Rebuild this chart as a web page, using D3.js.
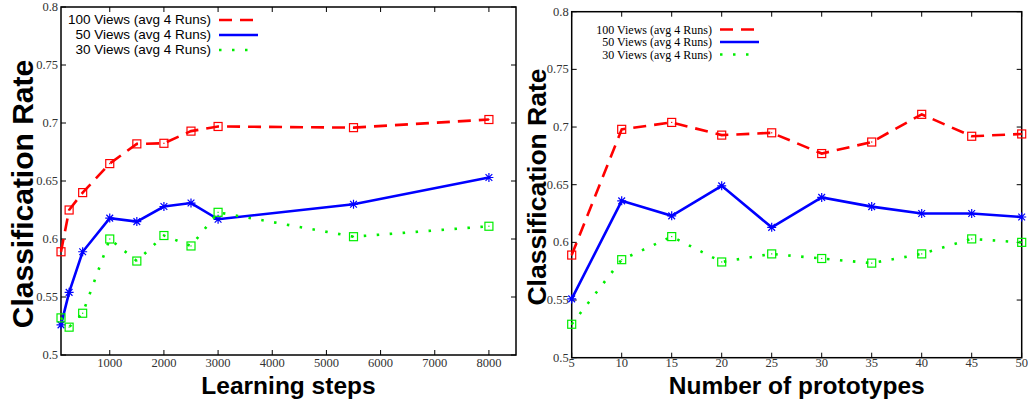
<!DOCTYPE html>
<html>
<head>
<meta charset="utf-8">
<script src="https://cdn.jsdelivr.net/npm/d3@7.9.0/dist/d3.min.js"></script>
<style>
  body { margin: 0; background: #fff; }
  svg { display: block; }
</style>
</head>
<body>
<svg width="1028" height="401"></svg>
<script>
// left panel: learning steps
const steps = [100, 250, 500, 1000, 1500, 2000, 2500, 3000, 5500, 8000];
const steps100 = [0.589, 0.625, 0.640, 0.665, 0.682, 0.6825, 0.693, 0.697, 0.696, 0.703];
const steps50 = [0.526, 0.554, 0.589, 0.618, 0.615, 0.628, 0.631, 0.617, 0.630, 0.653];
const steps30 = [0.532, 0.524, 0.536, 0.600, 0.581, 0.603, 0.594, 0.623, 0.602, 0.611];
const stepTicks = [1000, 2000, 3000, 4000, 5000, 6000, 7000, 8000];

// right panel: number of prototypes
const protos = [5, 10, 15, 20, 25, 30, 35, 40, 45, 50];
const protos100 = [0.589, 0.698, 0.704, 0.693, 0.695, 0.677, 0.687, 0.711, 0.692, 0.694];
const protos50 = [0.551, 0.636, 0.623, 0.649, 0.613, 0.639, 0.631, 0.625, 0.625, 0.622];
const protos30 = [0.529, 0.585, 0.605, 0.583, 0.590, 0.586, 0.582, 0.590, 0.603, 0.600];
const protoTicks = [5, 10, 15, 20, 25, 30, 35, 40, 45, 50];

const rateTicks = [0.5, 0.55, 0.6, 0.65, 0.7, 0.75, 0.8];
const seriesNames = ['100 Views (avg 4 Runs)', '50 Views (avg 4 Runs)', '30 Views (avg 4 Runs)'];

const svg = d3.select('svg');

const styles = [
  { color: '#ff0000', dash: '13,8', mark: 'square' },
  { color: '#0000ff', dash: null, mark: 'star' },
  { color: '#00ee00', dash: '2.5,10.5', mark: 'square' }
];

function drawPanel(p) {
  const x = d3.scaleLinear().domain(p.xDomain).range([p.left, p.right]);
  const y = d3.scaleLinear().domain([0.5, 0.8]).range([p.bottom, p.top]);
  const g = svg.append('g');

  // frame
  g.append('rect')
    .attr('x', p.left).attr('y', p.top)
    .attr('width', p.right - p.left).attr('height', p.bottom - p.top)
    .attr('fill', 'none').attr('stroke', '#000').attr('stroke-width', 1.5);

  // inward ticks on all sides
  p.xTicks.forEach((t) => {
    g.append('line').attr('x1', x(t)).attr('x2', x(t)).attr('y1', p.bottom).attr('y2', p.bottom - 5)
      .attr('stroke', '#000');
    g.append('line').attr('x1', x(t)).attr('x2', x(t)).attr('y1', p.top).attr('y2', p.top + 5)
      .attr('stroke', '#000');
    g.append('text').attr('x', x(t)).attr('y', 367)
      .attr('text-anchor', 'middle')
      .attr('font-family', 'Liberation Serif, serif').attr('font-size', 12.5).attr('fill', '#333')
      .text(t);
  });
  rateTicks.forEach((t) => {
    g.append('line').attr('x1', p.left).attr('x2', p.left + 5).attr('y1', y(t)).attr('y2', y(t))
      .attr('stroke', '#000');
    g.append('line').attr('x1', p.right).attr('x2', p.right - 5).attr('y1', y(t)).attr('y2', y(t))
      .attr('stroke', '#000');
    g.append('text').attr('x', p.left - 3).attr('y', y(t) + 4)
      .attr('text-anchor', 'end')
      .attr('font-family', 'Liberation Serif, serif').attr('font-size', 12.5).attr('fill', '#333')
      .text(d3.format('')(t));
  });

  // axis titles
  g.append('text')
    .attr('transform', `translate(${p.yTitleX},${p.yTitleY}) rotate(-90)`)
    .attr('text-anchor', 'middle')
    .attr('font-family', 'Liberation Sans, Arial, sans-serif').attr('font-weight', 'bold')
    .attr('font-size', p.yTitleSize)
    .text('Classification Rate');
  g.append('text')
    .attr('x', (p.left + p.right) / 2).attr('y', 393.5)
    .attr('text-anchor', 'middle')
    .attr('font-family', 'Liberation Sans, Arial, sans-serif').attr('font-weight', 'bold')
    .attr('font-size', p.xTitleSize)
    .text(p.xTitle);

  const line = d3.line().x((d) => x(d[0])).y((d) => y(d[1]));

  p.series.forEach((vals, i) => {
    const st = styles[i];
    const pts = p.xs.map((v, j) => [v, vals[j]]);
    g.append('path').datum(pts)
      .attr('d', line)
      .attr('fill', 'none').attr('stroke', st.color).attr('stroke-width', 2.6)
      .attr('stroke-dasharray', st.dash);

    pts.forEach((d) => {
      const cx = x(d[0]), cy = y(d[1]);
      if (st.mark === 'square') {
        g.append('rect').attr('x', cx - 4).attr('y', cy - 4).attr('width', 8).attr('height', 8)
          .attr('fill', 'none').attr('stroke', st.color).attr('stroke-width', 1.2);
        g.append('rect').attr('x', cx - 0.6).attr('y', cy - 0.6).attr('width', 1.2).attr('height', 1.2)
          .attr('fill', st.color);
      } else {
        const r = 4.5;
        const path = d3.path();
        path.moveTo(cx - r, cy); path.lineTo(cx + r, cy);
        path.moveTo(cx, cy - r); path.lineTo(cx, cy + r);
        path.moveTo(cx - r * 0.75, cy - r * 0.75); path.lineTo(cx + r * 0.75, cy + r * 0.75);
        path.moveTo(cx - r * 0.75, cy + r * 0.75); path.lineTo(cx + r * 0.75, cy - r * 0.75);
        g.append('path').attr('d', path.toString()).attr('stroke', st.color).attr('stroke-width', 1.2);
      }
    });

    // legend
    const ly = p.legendY + i * p.legendStep;
    g.append('text').attr('x', p.legendTextX).attr('y', ly + 4)
      .attr('text-anchor', 'end')
      .attr('font-family', p.legendFont).attr('font-size', p.legendSize).attr('fill', '#000')
      .text(seriesNames[i]);
    g.append('line')
      .attr('x1', p.legendTextX + 8).attr('x2', p.legendTextX + 47)
      .attr('y1', ly).attr('y2', ly)
      .attr('stroke', st.color).attr('stroke-width', 2.6)
      .attr('stroke-dasharray', st.dash);
  });
}

drawPanel({
  left: 61, right: 516, top: 7, bottom: 355,
  xDomain: [100, 8500], xTicks: stepTicks, xs: steps,
  series: [steps100, steps50, steps30],
  xTitle: 'Learning steps', xTitleSize: 24.5,
  yTitleX: 33, yTitleY: 194, yTitleSize: 30,
  legendTextX: 211, legendY: 20, legendStep: 15,
  legendFont: 'Liberation Sans, Arial, sans-serif', legendSize: 13.5
});

drawPanel({
  left: 571.7, right: 1021.7, top: 11.7, bottom: 357.7,
  xDomain: [5, 50], xTicks: protoTicks, xs: protos,
  series: [protos100, protos50, protos30],
  xTitle: 'Number of prototypes', xTitleSize: 24.5,
  yTitleX: 546, yTitleY: 187, yTitleSize: 26.5,
  legendTextX: 712, legendY: 29.5, legendStep: 12.5,
  legendFont: 'Liberation Serif, serif', legendSize: 12
});
</script>
</body>
</html>
